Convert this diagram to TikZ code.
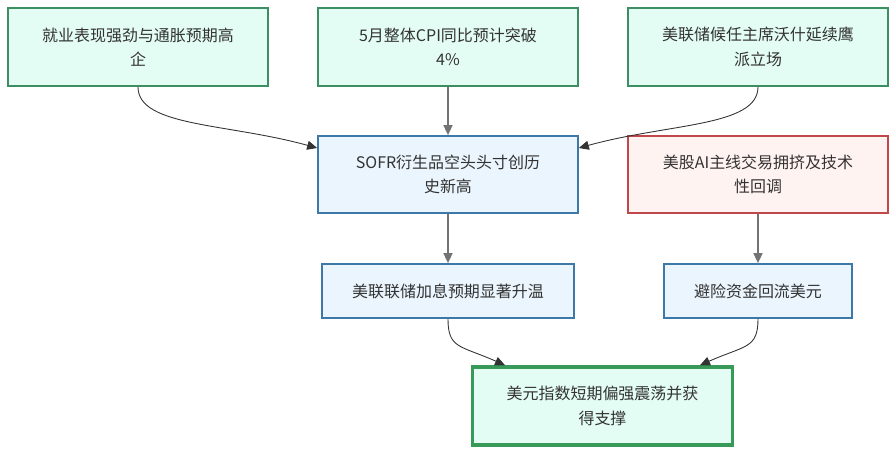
\documentclass[tikz,border=0pt]{standalone}
\usepackage{fontspec}
\newfontfamily\cjk{Noto Sans CJK SC}
\usetikzlibrary{arrows.meta,positioning,calc}

\definecolor{greenline}{HTML}{3D8F63}
\definecolor{greenfill}{HTML}{E3FCF4}
\definecolor{blueline}{HTML}{3C78A8}
\definecolor{bluefill}{HTML}{EAF5FD}
\definecolor{redline}{HTML}{C0484A}
\definecolor{redfill}{HTML}{FFF3F1}
\definecolor{textgray}{HTML}{333333}

\begin{document}
\begin{tikzpicture}[
    x=0.02cm, y=-0.02cm,
    every node/.style={rectangle, text centered, align=center,
        font=\cjk\fontsize{9.1}{13.8}\selectfont, text=textgray},
    driver/.style={draw=greenline, line width=1pt, fill=greenfill,
        minimum width=5.2cm, minimum height=1.56cm},
    effect/.style={draw=blueline, line width=1pt, fill=bluefill,
        minimum height=1.08cm},
    risk/.style={draw=redline, line width=1pt, fill=redfill,
        minimum width=5.2cm, minimum height=1.54cm},
    outcome/.style={draw=greenline!90!green, line width=2pt, fill=greenfill,
        minimum width=5.2cm, minimum height=1.56cm},
    arr/.style={-{Triangle[length=2mm, width=1.8mm]}, draw=black!80,
        line width=0.5pt},
    sarr/.style={-{Triangle[length=2mm, width=1.8mm]}, draw=black!55,
        line width=0.9pt},
]
\useasboundingbox (0,0) rectangle (896,454);

% Row 1: drivers
\node[driver] (jobs)  at (138, 47) {就业表现强劲与通胀预期高\\企};
\node[driver] (cpi)   at (448, 47) {5月整体CPI同比预计突破\\4\%};
\node[driver] (chair) at (758, 47) {美联储候任主席沃什延续鹰\\派立场};

% Row 2
\node[effect, minimum width=5.2cm, minimum height=1.54cm] (sofr) at (448, 174.5) {SOFR衍生品空头头寸创历\\史新高};
\node[risk] (stocks) at (758, 174.5) {美股AI主线交易拥挤及技术\\性回调};

% Row 3
\node[effect, minimum width=5.04cm] (hike)  at (448, 291) {美联联储加息预期显著升温};
\node[effect, minimum width=3.76cm] (haven) at (758, 291) {避险资金回流美元};

% Row 4: result
\node[outcome] (dxy) at (602.5, 406) {美元指数短期偏强震荡并获\\得支撑};

% Arrows
\draw[arr] (jobs.south) .. controls +(0,40) and +(-90,-25) .. ([yshift=0.53cm]sofr.west);
\draw[sarr] (cpi) -- (sofr);
\draw[arr] (chair.south) .. controls +(0,40) and +(90,-25) .. ([yshift=0.53cm]sofr.east);
\draw[sarr] (sofr) -- (hike);
\draw[sarr] (stocks) -- (haven);
\draw[arr] (hike.south) .. controls +(0,30) and +(-45,-20) .. ([xshift=-1.95cm]dxy.north);
\draw[arr] (haven.south) .. controls +(0,30) and +(45,-20) .. ([xshift=1.95cm]dxy.north);

\end{tikzpicture}
\end{document}
